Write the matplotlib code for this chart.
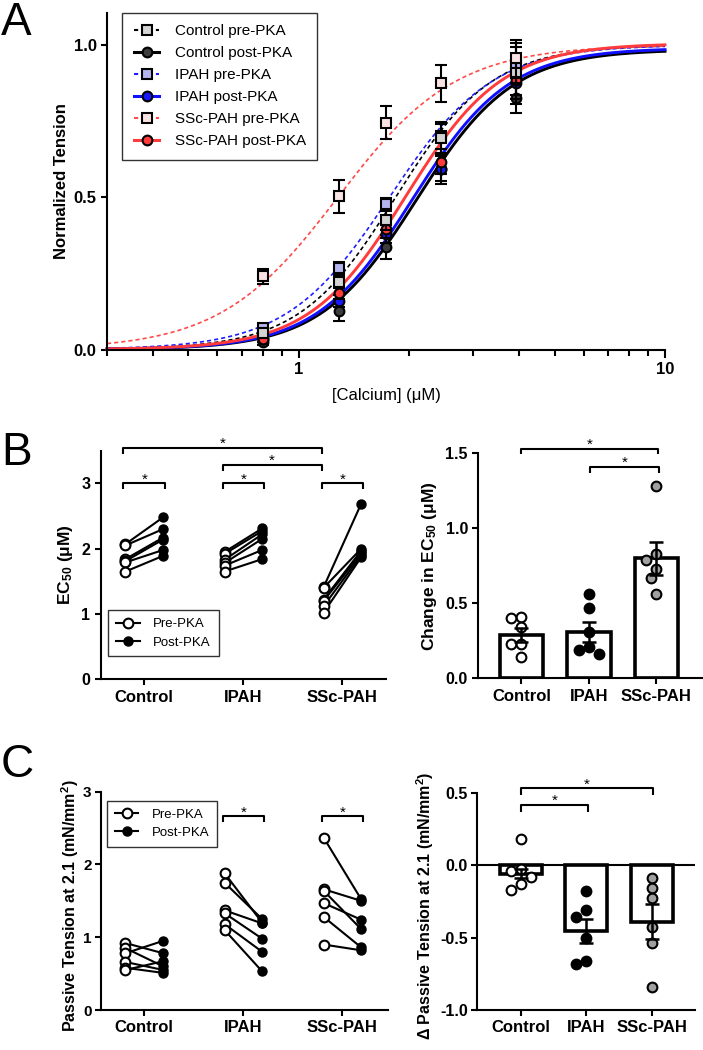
import numpy as np
import matplotlib
matplotlib.use("Agg")
import matplotlib.pyplot as plt
from matplotlib.lines import Line2D
from matplotlib.ticker import FixedLocator, NullFormatter, FixedFormatter

plt.rcParams['font.family'] = ['Liberation Sans', 'DejaVu Sans']
plt.rcParams['mathtext.default'] = 'regular'
plt.rcParams['axes.unicode_minus'] = False

# ---------------- data: panel A (normalized tension vs calcium) ----------------
calcium = [0.80, 1.29, 1.73, 2.45, 3.91]

ctrl_pre = [0.055, 0.222, 0.424, 0.696, 0.907]
ctrl_post = [0.024, 0.125, 0.337, 0.592, 0.825]
ipah_pre = [0.071, 0.266, 0.479, 0.700, 0.934]
ipah_post = [0.035, 0.160, 0.380, 0.594, 0.874]
ssc_pre = [0.240, 0.503, 0.745, 0.874, 0.956]
ssc_post = [0.035, 0.186, 0.397, 0.617, 0.885]

ctrl_pre_sem = [0.01, 0.02, 0.03, 0.05, 0.10]
ctrl_post_sem = [0.01, 0.03, 0.04, 0.05, 0.05]
ipah_pre_sem = [0.01, 0.02, 0.02, 0.04, 0.06]
ipah_post_sem = [0.01, 0.02, 0.03, 0.04, 0.05]
ssc_pre_sem = [0.025, 0.055, 0.055, 0.06, 0.06]
ssc_post_sem = [0.01, 0.02, 0.03, 0.04, 0.05]

series_labels = ['Control pre-PKA', 'Control post-PKA', 'IPAH pre-PKA',
                 'IPAH post-PKA', 'SSc-PAH pre-PKA', 'SSc-PAH post-PKA']
# Hill fit parameters (EC50, Hill coefficient, plateau)
fit_ec50 = [1.84, 2.10, 1.77, 2.05, 1.28, 1.96]
fit_hill = [3.3, 3.3, 3.1, 3.3, 2.7, 3.3]
fit_top = [1.0, 0.985, 1.0, 0.99, 1.0, 1.005]

# ---------------- data: panel B ----------------
groups = ['Control', 'IPAH', 'SSc-PAH']
ec50_pre = [[2.07, 2.05, 1.84, 1.81, 1.79, 1.65],
            [1.95, 1.92, 1.83, 1.78, 1.74, 1.65],
            [1.41, 1.40, 1.22, 1.20, 1.12, 1.02]]
ec50_post = [[2.48, 2.30, 2.17, 2.14, 1.98, 1.89],
             [2.31, 2.27, 2.22, 2.15, 1.98, 1.84],
             [2.69, 2.00, 1.97, 1.93, 1.90, 1.87]]

d_ec50 = [[0.41, 0.40, 0.34, 0.23, 0.23, 0.14],
          [0.47, 0.56, 0.31, 0.21, 0.19, 0.16],
          [1.28, 0.83, 0.79, 0.73, 0.67, 0.56]]
d_ec50_mean = [0.29, 0.31, 0.80]
d_ec50_sem = [0.045, 0.065, 0.11]

# ---------------- data: panel C ----------------
pt_pre = [[0.92, 0.85, 0.78, 0.66, 0.58, 0.55],
          [1.88, 1.75, 1.37, 1.33, 1.18, 1.10],
          [2.37, 1.66, 1.64, 1.47, 1.28, 0.90]]
pt_post = [[0.78, 0.60, 0.95, 0.55, 0.51, 0.67],
           [1.20, 1.25, 1.19, 0.98, 0.80, 0.53],
           [1.52, 1.50, 1.11, 1.24, 0.86, 0.82]]

d_pt = [[0.18, -0.03, -0.04, -0.08, -0.13, -0.17],
        [-0.18, -0.31, -0.36, -0.50, -0.66, -0.68],
        [-0.09, -0.16, -0.23, -0.43, -0.54, -0.84]]
d_pt_mean = [-0.06, -0.455, -0.39]
d_pt_sem = [0.03, 0.08, 0.12]

# ---------------- figure ----------------
W, H = 703, 1050
fig = plt.figure(figsize=(W / 100, H / 100), dpi=100)


def px_axes(left, top, right, bottom):
    return fig.add_axes([left / W, 1 - bottom / H, (right - left) / W, (bottom - top) / H])


def style(ax, ytick_size=11.5):
    for s in ['top', 'right']:
        ax.spines[s].set_visible(False)
    for s in ['left', 'bottom']:
        ax.spines[s].set_linewidth(1.5)
    ax.tick_params(width=1.5, length=4.5, pad=3, labelsize=ytick_size)
    for lab in ax.get_yticklabels() + ax.get_xticklabels():
        lab.set_fontweight('bold')


def bracket(ax, x0, x1, y, h, lw=1.5):
    ax.plot([x0, x0, x1, x1], [y - h, y, y, y - h], color='k', lw=lw,
            clip_on=False, solid_capstyle='butt', zorder=5)
    ax.text((x0 + x1) / 2, y, '*', ha='center', va='baseline', fontsize=11,
            clip_on=False)


def swarm(ax, x0, values, diam_px):
    trans = ax.transData
    placed = []
    offsets = np.zeros(len(values))
    for idx in np.argsort(values)[::-1]:
        px, py = trans.transform((x0, values[idx]))
        best = None
        for k in range(0, 30):
            for sign in ([0] if k == 0 else [-1, 1]):
                cand = px + sign * k * diam_px * 0.5
                if all((cand - qx) ** 2 + (py - qy) ** 2 >= diam_px ** 2 for qx, qy in placed):
                    best = cand
                    break
            if best is not None:
                break
        placed.append((best, py))
        offsets[idx] = trans.inverted().transform((best, py))[0] - x0
    return offsets


# ================= Panel A =================
axA = px_axes(107, 13, 665, 349.5)
axA.set_xscale('log')
axA.set_xlim(0.3, 10)
axA.set_ylim(0, 1.105)

a_means = [ctrl_pre, ctrl_post, ipah_pre, ipah_post, ssc_pre, ssc_post]
a_sems = [ctrl_pre_sem, ctrl_post_sem, ipah_pre_sem, ipah_post_sem, ssc_pre_sem, ssc_post_sem]
line_colors = ['black', 'black', '#1f1fff', '#1010ff', '#ff4a4a', '#ff3b3b']
face_colors = ['#d4d4d4', '#3c3c3c', '#b4b4ee', '#1818ff', '#f9e2e2', '#ff3a3a']
markers = ['s', 'o', 's', 'o', 's', 'o']
is_pre = [True, False, True, False, True, False]

xs = np.logspace(np.log10(0.3), 1, 400)
for i in range(6):
    ls = (0, (2.5, 1.8)) if is_pre[i] else '-'
    lw = 1.2 if is_pre[i] else 2.1
    curve = fit_top[i] / (1 + (fit_ec50[i] / xs) ** fit_hill[i])
    axA.plot(xs, curve, color=line_colors[i], ls=ls, lw=lw, zorder=2, clip_on=False)

draw_order = [1, 3, 5, 2, 0, 4]
for i in draw_order:
    axA.errorbar(calcium, a_means[i], yerr=a_sems[i], fmt=markers[i], ms=7,
                 mfc=face_colors[i], mec='black', mew=1.5, ecolor='black',
                 elinewidth=1.5, capsize=4, capthick=1.5, zorder=3 + draw_order.index(i),
                 clip_on=False)

handles = []
for i in range(6):
    ls = (0, (2.0, 1.5)) if is_pre[i] else '-'
    handles.append(Line2D([], [], color=line_colors[i], ls=ls, lw=1.5 if is_pre[i] else 2.2,
                          marker=markers[i], ms=7, mfc=face_colors[i], mec='black', mew=1.5))
legA = axA.legend(handles, series_labels, loc='upper left', bbox_to_anchor=(0.027, 1.0),
                  fontsize=11, frameon=True, fancybox=False, edgecolor='black',
                  handlelength=1.7, labelspacing=0.52, borderpad=0.75, handletextpad=1.0,
                  borderaxespad=0)
legA.get_frame().set_linewidth(1.0)

axA.set_yticks([0, 0.5, 1.0])
axA.set_yticklabels(['0.0', '0.5', '1.0'])
axA.xaxis.set_major_locator(FixedLocator([1, 10]))
axA.xaxis.set_major_formatter(FixedFormatter(['1', '10']))
axA.xaxis.set_minor_locator(FixedLocator([0.3, 0.4, 0.5, 0.6, 0.7, 0.8, 0.9,
                                          2, 3, 4, 5, 6, 7, 8, 9]))
axA.xaxis.set_minor_formatter(NullFormatter())
style(axA, ytick_size=12)
axA.tick_params(axis='x', which='major', length=6)
axA.tick_params(axis='x', which='minor', length=4, width=1.5)
axA.set_ylabel('Normalized Tension', fontsize=12, fontweight='bold', va='center')
axA.yaxis.set_label_coords(-0.082, 0.5)
axA.set_xlabel('[Calcium] (μM)', fontsize=12, labelpad=8)

# ================= Panel B left =================
off = 0.19


def paired(ax, pre, post):
    for i in range(len(pre)):
        for a, b in zip(pre[i], post[i]):
            ax.plot([i - off, i + off], [a, b], color='k', lw=1.5, zorder=2)
        ax.plot([i - off] * len(pre[i]), pre[i], 'o', ms=7, mfc='white', mec='k',
                mew=1.5, ls='none', zorder=3)
        ax.plot([i + off] * len(post[i]), post[i], 'o', ms=6.5, mfc='k', mec='k',
                ls='none', zorder=3)


def pair_legend(ax, **kw):
    h = [Line2D([], [], color='k', lw=1.5, marker='o', ms=7, mfc='white', mec='k', mew=1.5),
         Line2D([], [], color='k', lw=1.5, marker='o', ms=6.5, mfc='k', mec='k')]
    leg = ax.legend(h, ['Pre-PKA', 'Post-PKA'], fontsize=9.5, frameon=True, fancybox=False,
                    edgecolor='black', handlelength=1.8, borderpad=0.6, labelspacing=0.45,
                    handletextpad=1.0, borderaxespad=0, **kw)
    leg.get_frame().set_linewidth(1.0)


axB1 = px_axes(100.7, 450.7, 386, 679.3)
axB1.set_xlim(-0.44, 2.44)
axB1.set_ylim(0, 3.5)
paired(axB1, ec50_pre, ec50_post)
axB1.set_yticks([0, 1, 2, 3])
axB1.set_xticks([0, 1, 2])
axB1.set_xticklabels(groups)
style(axB1)
axB1.tick_params(axis='x', labelsize=12)
for i in range(3):
    bracket(axB1, i - 0.21, i + 0.21, 3.0, 0.09)
bracket(axB1, 1 - 0.21, 2 - 0.21, 3.28, 0.09)
bracket(axB1, -0.21, 2 - 0.21, 3.54, 0.09)
pair_legend(axB1, loc='lower left', bbox_to_anchor=(0.026, 0.10))
axB1.set_ylabel('EC$_{50}$ (μM)', fontsize=12.5, fontweight='bold', va='center')
axB1.yaxis.set_label_coords(-0.122, 0.5)

# ================= Panel B right =================
bar_faces = ['white', 'black', '#a0a0a0']


def bar_panel(ax, pts, means, sems):
    ax.bar(range(3), means, width=0.64, color='white', edgecolor='k', linewidth=2.6, zorder=1)
    for i in range(3):
        offs = swarm(ax, i, pts[i], 10.0)
        ax.plot(i + offs, pts[i], 'o', ms=7, mfc=bar_faces[i], mec='k', mew=1.5,
                ls='none', zorder=3)
    ax.errorbar(range(3), means, yerr=sems, fmt='none', ecolor='k', elinewidth=1.8,
                capsize=5, capthick=1.8, zorder=4)


axB2 = px_axes(478.3, 453.3, 703, 678.3)
axB2.set_xlim(-0.64, 2.69)
axB2.set_ylim(0, 1.5)
bar_panel(axB2, d_ec50, d_ec50_mean, d_ec50_sem)
axB2.set_yticks([0, 0.5, 1.0, 1.5])
axB2.set_yticklabels(['0.0', '0.5', '1.0', '1.5'])
axB2.set_xticks([0, 1, 2])
axB2.set_xticklabels(groups)
style(axB2)
axB2.tick_params(axis='x', labelsize=12)
bracket(axB2, 0, 2.02, 1.53, 0.035)
bracket(axB2, 1.01, 2.04, 1.41, 0.04)
axB2.set_ylabel('Change in EC$_{50}$ (μM)', fontsize=12.5, fontweight='bold', va='center')
axB2.yaxis.set_label_coords(-0.215, 0.5)

# ================= Panel C left =================
axC1 = px_axes(100.7, 791.7, 388, 1010)
axC1.set_xlim(-0.44, 2.46)
axC1.set_ylim(0, 3)
paired(axC1, pt_pre, pt_post)
axC1.set_yticks([0, 1, 2, 3])
axC1.set_xticks([0, 1, 2])
axC1.set_xticklabels(groups)
style(axC1, ytick_size=11)
axC1.tick_params(axis='x', labelsize=12)
axC1.tick_params(axis='y', pad=2)
bracket(axC1, 1 - 0.21, 1 + 0.21, 2.66, 0.08)
bracket(axC1, 2 - 0.21, 2 + 0.21, 2.66, 0.08)
pair_legend(axC1, loc='upper left', bbox_to_anchor=(0.021, 0.959))
axC1.set_ylabel('Passive Tension at 2.1 (mN/mm$^2$)', fontsize=11.5, fontweight='bold',
                va='center')
axC1.yaxis.set_label_coords(-0.108, 0.476)

# ================= Panel C right =================
axC2 = px_axes(476.7, 792.7, 695, 1010)
axC2.set_xlim(-0.67, 2.66)
axC2.set_ylim(-1.0, 0.5)
bar_panel(axC2, d_pt, d_pt_mean, d_pt_sem)
axC2.axhline(0, color='k', lw=1.5, zorder=2)
axC2.set_yticks([-1.0, -0.5, 0.0, 0.5])
axC2.set_yticklabels(['-1.0', '-0.5', '0.0', '0.5'])
axC2.set_xticks([0, 1, 2])
axC2.set_xticklabels(groups)
style(axC2)
axC2.tick_params(axis='x', labelsize=12)
axC2.tick_params(axis='y', pad=2)
bracket(axC2, 0, 2.02, 0.53, 0.045)
bracket(axC2, 0, 1.03, 0.414, 0.045)
axC2.set_ylabel('Δ Passive Tension at 2.1 (mN/mm$^2$)', fontsize=11.5, fontweight='bold',
                va='center')
axC2.yaxis.set_label_coords(-0.238, 0.48)

# ================= panel letters =================
for letter, base in [('A', 35), ('B', 465), ('C', 777)]:
    fig.text(1 / W, 1 - base / H, letter, fontsize=33, ha='left', va='baseline')

fig.savefig('out.png', dpi=100)
